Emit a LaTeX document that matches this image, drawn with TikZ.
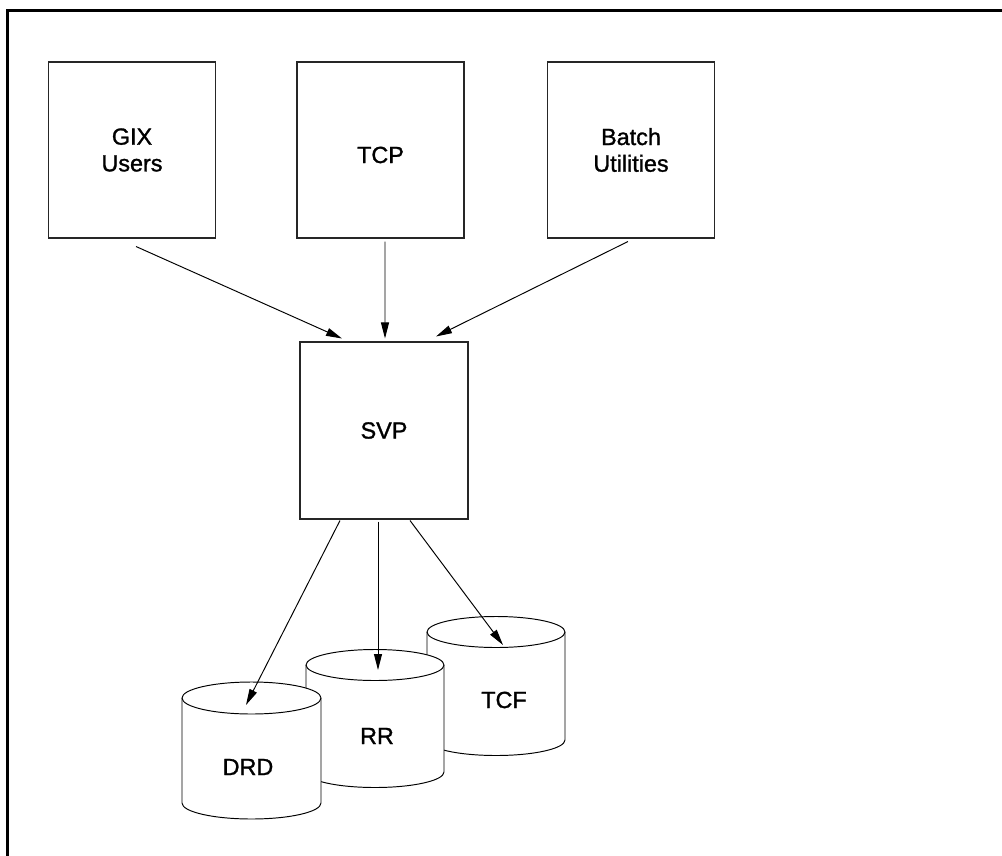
\documentclass[tikz,border=0pt]{standalone}
\usepackage{fontspec}
\setmainfont{Liberation Sans}[FakeBold=1.2]
\usetikzlibrary{arrows.meta,calc}
\begin{document}
\begin{tikzpicture}[x=0.02cm,y=0.02cm,
  box/.style={draw=black!85,line width=0.6pt,minimum width=3.34cm,minimum height=3.52cm,inner sep=0pt,
    font=\fontsize{13.3}{15.2}\selectfont,align=center},
  cyl/.style={draw=black,line width=0.55pt,fill=white},
  lbl/.style={font=\fontsize{13.3}{15.2}\selectfont,inner sep=0pt},
  arr/.style={draw=black,line width=0.55pt,-{Triangle[length=0.32cm,width=0.16cm]}}]
\useasboundingbox (0,0) rectangle (1002,-856);
% frame (top and left edges only)
\draw[line width=1.2pt] (7.5,-856) -- (7.5,-10.5) -- (1002,-10.5);
% boxes
\node[box] (gix) at (132,-150) {GIX\\Users};
\node[box] (tcp) at (380.5,-150) {};
\node[lbl] (tcptxt) at (380.5,-155) {TCP};
\node[box] (batch) at (631,-150) {Batch\\Utilities};
\node[box,minimum width=3.36cm,minimum height=3.54cm] (svp) at (384,-430.5) {SVP};
% cylinders: TCF (back), RR, DRD (front)
\filldraw[cyl] (427,-632) -- (427,-740) arc[start angle=180,end angle=360,x radius=69,y radius=15.5]
  -- (565,-632) arc[start angle=0,end angle=180,x radius=69,y radius=15.5] -- cycle;
\draw[cyl,fill=none] (427,-632) arc[start angle=180,end angle=360,x radius=69,y radius=15.5];
\coordinate (tcftop) at (503,-645);
\node[lbl] (tcf) at (504,-700) {TCF};
\filldraw[cyl] (306,-665) -- (306,-772) arc[start angle=180,end angle=360,x radius=69,y radius=15.5]
  -- (444,-665) arc[start angle=0,end angle=180,x radius=69,y radius=15.5] -- cycle;
\draw[cyl,fill=none] (306,-665) arc[start angle=180,end angle=360,x radius=69,y radius=15.5];
\coordinate (rrtop) at (378,-670);
\node[lbl] (rr) at (377,-736) {RR};
\filldraw[cyl] (182,-698) -- (182,-803) arc[start angle=180,end angle=360,x radius=69.5,y radius=16]
  -- (321,-698) arc[start angle=0,end angle=180,x radius=69.5,y radius=16] -- cycle;
\draw[cyl,fill=none] (182,-698) arc[start angle=180,end angle=360,x radius=69.5,y radius=16];
\coordinate (drdtop) at (246,-705);
\node[lbl] (drd) at (248,-767) {DRD};
% connectors
\draw[arr] ($(gix.south)+(4,-8)$) -- ($(svp.north)+(-42,3)$);
\draw[arr] ($(tcp.south)+(4.5,-3)$) -- ($(svp.north)+(1,3)$);
\draw[arr] ($(batch.south)+(-3,-3)$) -- ($(svp.north)+(52,5)$);
\draw[arr] ($(svp.south)+(-44,-1)$) -- (drdtop);
\draw[arr] ($(svp.south)+(-6,-2)$) -- (rrtop);
\draw[arr] ($(svp.south)+(26,-1)$) -- (tcftop);
\end{tikzpicture}
\end{document}
